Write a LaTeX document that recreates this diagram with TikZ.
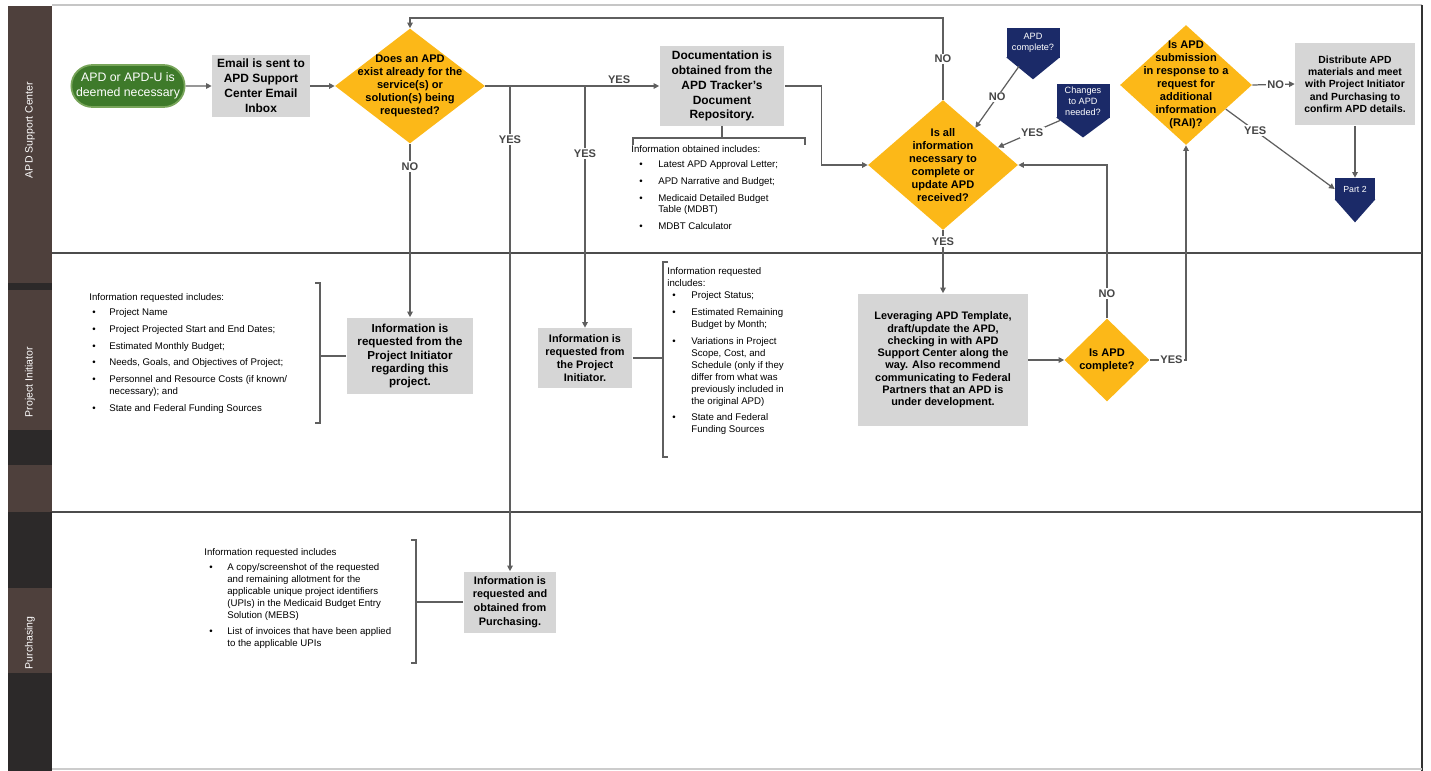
\documentclass[tikz,border=0pt]{standalone}
\usepackage{fontspec}
\setmainfont{Liberation Sans}
\usetikzlibrary{shapes.geometric, shapes.misc, arrows.meta, positioning, calc}
\definecolor{boxfill}{RGB}{214,214,214}
\definecolor{decisionfill}{RGB}{252,184,24}
\definecolor{navyfill}{RGB}{27,42,104}
\definecolor{startfill}{RGB}{62,122,42}
\definecolor{startrim}{RGB}{120,165,90}
\definecolor{lanebar}{RGB}{78,64,60}
\definecolor{lanedark}{RGB}{44,41,41}
\definecolor{linegray}{RGB}{95,95,95}
\definecolor{labelgray}{RGB}{70,70,70}
\tikzset{
    process/.style={
        rectangle,
        fill=boxfill,
        align=center,
        inner sep=1pt,
        font=\fontsize{6.8}{8.5}\selectfont\bfseries
    },
    decision/.style={
        diamond,
        fill=decisionfill,
        align=center,
        inner sep=-40pt,
        font=\fontsize{6.3}{7.4}\selectfont\bfseries
    },
    offpage/.style={
        rectangle,
        fill=navyfill,
        text=white,
        align=center,
        inner sep=0.5pt,
        font=\fontsize{5.2}{6.2}\selectfont
    },
    terminal/.style={
        rounded rectangle,
        fill=startfill,
        draw=startrim,
        line width=1pt,
        text=white,
        align=center,
        font=\fontsize{7}{8.5}\selectfont
    },
    flow/.style={
        draw=linegray,
        line width=0.7pt,
        -{Triangle[length=3.2pt, width=3.2pt]}
    },
    link/.style={
        draw=linegray,
        line width=0.7pt
    },
    answer/.style={
        font=\fontsize{6.3}{7}\selectfont\bfseries,
        text=labelgray,
        inner sep=0.8pt
    },
    infolist/.style={
        anchor=north west,
        inner sep=0pt,
        font=\fontsize{5.5}{6.8}\selectfont
    },
    lanetitle/.style={
        rotate=90,
        text=white,
        font=\fontsize{6}{7}\selectfont
    }
}

\begin{document}
\begin{tikzpicture}[x=0.02cm, y=-0.02cm]
\useasboundingbox (0,0) rectangle (1431,771);

% Lane bars
\fill[lanebar] (8,6) rectangle (52,253);
\fill[lanebar] (8,253) rectangle (52,512);
\fill[lanedark] (8,283) rectangle (52,290);
\fill[lanedark] (8,430) rectangle (52,465);
\fill[lanedark] (8,512) rectangle (52,771);
\fill[lanebar] (8,588) rectangle (52,673);
\node[lanetitle] (asclane) at (30,130) {APD Support Center};
\node[lanetitle] (pilane) at (30,382) {Project Initiator};
\node[lanetitle] (purlane) at (30,643) {Purchasing};

% Frame and lane borders
\draw[gray!45, line width=0.8pt] (52,5) -- (1422,5);
\draw[black!80, line width=1.2pt] (1422,5) -- (1422,771);
\draw[black!70, line width=1pt] (52,253) -- (1422,253);
\draw[black!70, line width=1pt] (52,512) -- (1422,512);
\draw[gray!40, line width=0.6pt] (52,769) -- (1422,769);

% APD Support Center lane
\node[terminal, minimum width=2.5cm, minimum height=0.84cm] (start) at (128,86) {APD or APD-U is\\deemed necessary};
\node[process, minimum width=1.96cm, minimum height=1.26cm] (email) at (261,86) {Email is sent to\\APD Support\\Center Email\\Inbox};
\node[decision, minimum width=3cm, minimum height=2.3cm] (exists) at (410,86) {Does an APD\\exist already for the\\service(s) or\\solution(s) being\\requested?};
\node[process, minimum width=2.5cm, minimum height=1.6cm] (docs) at (722,86) {Documentation is\\obtained from the\\APD Tracker's\\Document\\Repository.};
\node[decision, minimum width=3cm, minimum height=2.6cm] (allinfo) at (943,165) {Is all\\information\\necessary to\\complete or\\update APD\\received?};
\node[offpage, minimum width=1.06cm, inner ysep=3pt, anchor=north] (apddone) at (1033,28) {APD\\complete?};
\node[offpage, minimum width=1.06cm, inner ysep=1.5pt, anchor=north] (changes) at (1083,84) {Changes\\to APD\\needed?};
\node[decision, minimum width=2.64cm, minimum height=2.4cm] (rai) at (1186,85) {Is APD\\submission\\in response to a\\request for\\additional\\information\\(RAI)?};
\node[process, minimum width=2.4cm, minimum height=1.66cm, font=\fontsize{5.9}{7}\selectfont\bfseries] (distribute) at (1355,84) {Distribute APD\\materials and meet\\with Project Initiator\\and Purchasing to\\confirm APD details.};
\node[offpage, minimum width=0.8cm, minimum height=0.44cm, font=\fontsize{5}{6}\selectfont] (part2) at (1355,189) {Part 2};
% pointer tips of the off-page markers
\foreach \marker/\tip in {apddone/21, changes/19, part2/22}
    \fill[navyfill] ($(\marker.south west)+(0,-1)$) -- ($(\marker.south east)+(0,-1)$) -- ($(\marker.south)+(0,\tip)$) -- cycle;

\node[infolist] (docitems) at (631,144) {%
\begin{tabular}{@{}p{0.54cm}@{}p{3cm}@{}}
\multicolumn{2}{@{}l@{}}{Information obtained includes:}\\[1.5pt]
\hspace{0.16cm}\textbullet & Latest APD Approval Letter;\\[2.8pt]
\hspace{0.16cm}\textbullet & APD Narrative and Budget;\\[2.8pt]
\hspace{0.16cm}\textbullet & Medicaid Detailed Budget\newline Table (MDBT)\\[2.8pt]
\hspace{0.16cm}\textbullet & MDBT Calculator
\end{tabular}};

% Project Initiator lane
\node[process, minimum width=2.54cm, minimum height=1.54cm, font=\fontsize{6.6}{7.6}\selectfont\bfseries] (askpi) at (410,356) {Information is\\requested from the\\Project Initiator\\regarding this\\project.};
\node[process, minimum width=1.9cm, minimum height=1.2cm, font=\fontsize{6.2}{7.4}\selectfont\bfseries] (askpi2) at (585,358) {Information is\\requested from\\the Project\\Initiator.};
\node[process, minimum width=3.4cm, minimum height=2.66cm, font=\fontsize{6.2}{7}\selectfont\bfseries] (draft) at (943,360) {Leveraging APD Template,\\draft/update the APD,\\checking in with APD\\Support Center along the\\way. Also recommend\\communicating to Federal\\Partners that an APD is\\under development.};
\node[decision, minimum width=1.7cm, minimum height=1.66cm] (complete) at (1107,360) {Is APD\\complete?};

\node[infolist] (pilist) at (89,292) {%
\begin{tabular}{@{}p{0.4cm}@{}p{4.4cm}@{}}
\multicolumn{2}{@{}l@{}}{Information requested includes:}\\[1.5pt]
\hspace{0.06cm}\textbullet & Project Name\\[2.8pt]
\hspace{0.06cm}\textbullet & Project Projected Start and End Dates;\\[2.8pt]
\hspace{0.06cm}\textbullet & Estimated Monthly Budget;\\[2.8pt]
\hspace{0.06cm}\textbullet & Needs, Goals, and Objectives of Project;\\[2.8pt]
\hspace{0.06cm}\textbullet & Personnel and Resource Costs (if known/\newline necessary); and\\[2.8pt]
\hspace{0.06cm}\textbullet & State and Federal Funding Sources
\end{tabular}};

\node[infolist] (pi2list) at (667,266) {%
\begin{tabular}{@{}p{0.48cm}@{}p{2.5cm}@{}}
\multicolumn{2}{@{}p{3cm}@{}}{Information requested\newline includes:}\\[1.5pt]
\hspace{0.1cm}\textbullet & Project Status;\\[2.8pt]
\hspace{0.1cm}\textbullet & Estimated Remaining\newline Budget by Month;\\[2.8pt]
\hspace{0.1cm}\textbullet & Variations in Project\newline Scope, Cost, and\newline Schedule (only if they\newline differ from what was\newline previously included in\newline the original APD)\\[2.8pt]
\hspace{0.1cm}\textbullet & State and Federal\newline Funding Sources
\end{tabular}};

% Purchasing lane
\node[process, minimum width=1.86cm, minimum height=1.22cm, font=\fontsize{6.2}{7.8}\selectfont\bfseries] (askpur) at (510,602) {Information is\\requested and\\obtained from\\Purchasing.};

\node[infolist] (purlist) at (204,547) {%
\begin{tabular}{@{}p{0.46cm}@{}p{4.4cm}@{}}
\multicolumn{2}{@{}l@{}}{Information requested includes}\\[1.5pt]
\hspace{0.1cm}\textbullet & A copy/screenshot of the requested\newline and remaining allotment for the\newline applicable unique project identifiers\newline (UPIs) in the Medicaid Budget Entry\newline Solution (MEBS)\\[2.8pt]
\hspace{0.1cm}\textbullet & List of invoices that have been applied\newline to the applicable UPIs
\end{tabular}};

% Brackets
\coordinate (docbrace) at (722,138);
\draw[link] (docs.south) -- (docbrace);
\draw[link] (633,145) -- (633,138) -- (805,138) -- (805,145);
\coordinate (pibrace) at (320,356);
\draw[link] (askpi.west) -- (pibrace);
\draw[link] (315,283) -- (320,283) -- (320,423) -- (315,423);
\coordinate (pi2brace) at (663,358);
\draw[link] (askpi2.east) -- (pi2brace);
\draw[link] (668,262) -- (663,262) -- (663,457) -- (668,457);
\coordinate (purbrace) at (416,602);
\draw[link] (askpur.west) -- (purbrace);
\draw[link] (411,540) -- (416,540) -- (416,663) -- (411,663);

% Connections
\draw[flow] (start) -- (email);
\draw[flow] (email) -- (exists);
\draw[flow] (exists.east) -- node[answer, above, pos=0.77] {YES} (docs.west);
\coordinate (split1) at (510,86);
\coordinate (split2) at (585,86);
\draw[flow] (split1) -- node[answer, fill=white, pos=0.11] {YES} (askpur.north);
\draw[flow] (split2) -- node[answer, fill=white, pos=0.28] {YES} (askpi2.north);
\draw[flow] (exists.south) -- node[answer, fill=white, pos=0.13] {NO} (askpi.north);
\coordinate (looptop) at (943,18);
\draw[flow] (allinfo.north) -- node[answer, fill=white] {NO} (looptop) -| (exists.north);
\draw[flow] (docs.east) -- ++(37,0) |- (allinfo.west);
\draw[flow] (allinfo.south) -- node[answer, fill=white, pos=0.18] {YES} (draft.north);
\draw[flow] ($(apddone.south)+(-14,8)$) -- node[answer, fill=white] {NO} ($(allinfo.north)!0.43!(allinfo.east)$);
\draw[flow] ($(changes.south)+(-23,2)$) -- node[answer, fill=white, pos=0.45] {YES} ($(allinfo.north)!0.73!(allinfo.east)$);
\draw[flow] (rai.east) -- node[answer, fill=white, pos=0.55] {NO} (distribute.west);
\draw[flow] (distribute.south) -- (part2.north);
\draw[flow] ($(rai.east)!0.4!(rai.south)$) -- node[answer, fill=white, pos=0.27] {YES} (part2.west);
\draw[flow] (draft.east) -- (complete.west);
\draw[flow] (complete.north) |- node[answer, fill=white, pos=0.08] {NO} (allinfo.east);
\draw[flow] (complete.east) -| node[answer, fill=white, pos=0.3] {YES} (rai.south);

\end{tikzpicture}
\end{document}
